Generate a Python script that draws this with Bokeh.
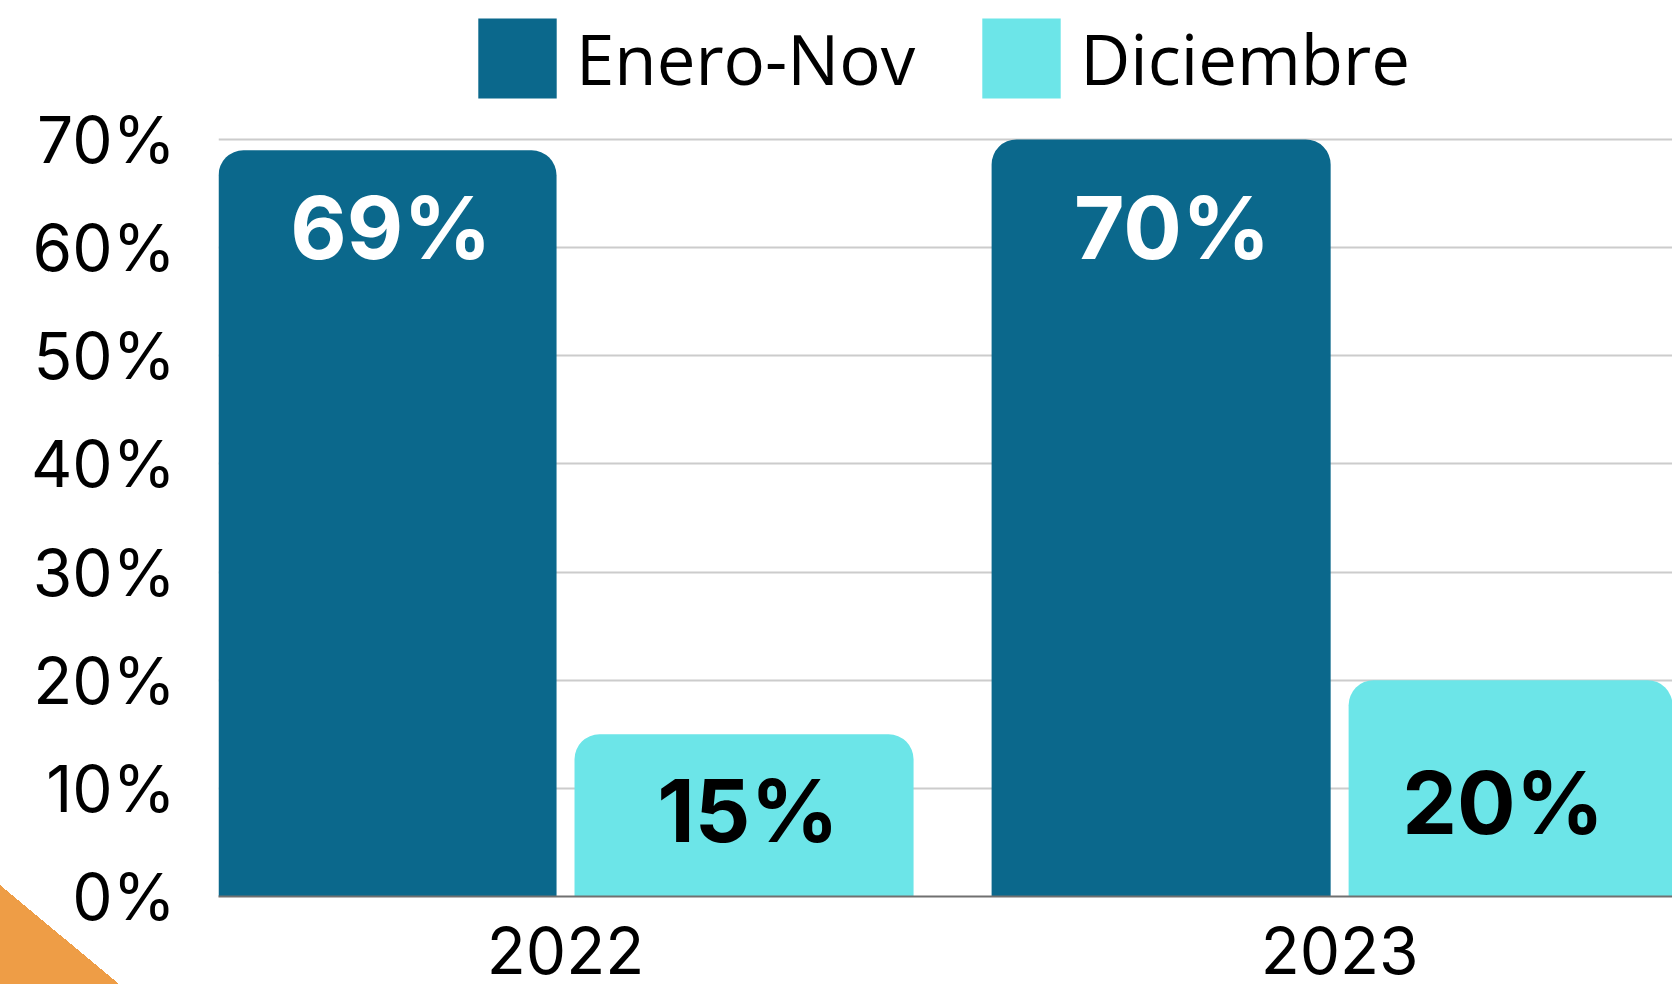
from bokeh.plotting import figure
from bokeh.models import ColumnDataSource, Range1d, FixedTicker, Legend, LegendItem
from bokeh.core.properties import value
from bokeh.transform import dodge
from bokeh.embed import file_html
from bokeh.resources import INLINE

# ---- data ----
years = ["2022", "2023"]
enero_nov = [69, 70]
diciembre = [15, 20]
y_ticks = [0, 10, 20, 30, 40, 50, 60, 70]
series_names = ["Enero-Nov", "Diciembre"]

# ---- style ----
DARK = "#0B688C"
LIGHT = "#6CE5E8"
ORANGE = "#EE9D46"
BAR_W = 0.438
DODGE = 0.2306

xpos = list(range(len(years)))
src_a = ColumnDataSource(dict(x=xpos, v=enero_nov, lbl=[f"{v}%" for v in enero_nov],
                              dx=[4, 11], dy=[77, 88]))
src_b = ColumnDataSource(dict(x=xpos, v=diciembre, lbl=[f"{v}%" for v in diciembre],
                              dx=[4, -15], dy=[76, 122]))

corner_bg = ("linear-gradient(to top right, %s 50%%, rgba(255,255,255,0) 50%%) "
             "left bottom / 119px 99px no-repeat, #ffffff" % ORANGE)

p = figure(width=1672, height=984, output_backend="svg", toolbar_location=None,
           x_range=Range1d(-0.4483, 1.430), y_range=Range1d(0, 82.85),
           min_border_left=218, min_border_right=0, min_border_top=0, min_border_bottom=88,
           styles={"background": corner_bg})
p.outline_line_color = None
p.background_fill_color = "white"
p.border_fill_alpha = 0

ra = p.vbar(x=dodge("x", -DODGE), top="v", width=BAR_W, source=src_a,
            fill_color=DARK, line_color=None, border_radius=(25, 25, 0, 0))
rb = p.vbar(x=dodge("x", DODGE), top="v", width=BAR_W, source=src_b,
            fill_color=LIGHT, line_color=None, border_radius=(25, 25, 0, 0))

p.text(x=dodge("x", -DODGE), y="v", text="lbl", source=src_a, x_offset="dx", y_offset="dy",
       text_font=value("Inter"), text_font_style="bold", text_font_size="87px",
       text_color="white", text_align="center", text_baseline="middle")
p.text(x=dodge("x", DODGE), y="v", text="lbl", source=src_b, x_offset="dx", y_offset="dy",
       text_font=value("Inter"), text_font_style="bold", text_font_size="87px",
       text_color="black", text_align="center", text_baseline="middle")

# axes
p.xaxis.ticker = FixedTicker(ticks=xpos)
p.xaxis.major_label_overrides = {i: y for i, y in enumerate(years)}
p.xaxis.major_label_text_font = "Inter"
p.xaxis.major_label_text_font_size = "64px"
p.xaxis.major_label_text_color = "black"
p.xaxis.major_label_standoff = 24
p.xaxis.axis_line_color = "#707070"
p.xaxis.axis_line_width = 2
p.xaxis.major_tick_line_color = None
p.xaxis.minor_tick_line_color = None

p.yaxis.ticker = FixedTicker(ticks=y_ticks)
p.yaxis.major_label_overrides = {t: f"{t}%" for t in y_ticks}
p.yaxis.major_label_text_font = "Inter"
p.yaxis.major_label_text_font_size = "64px"
p.yaxis.major_label_text_color = "black"
p.yaxis.major_label_standoff = 37
p.yaxis.axis_line_color = None
p.yaxis.major_tick_line_color = None
p.yaxis.minor_tick_line_color = None

p.xgrid.grid_line_color = None
p.ygrid.grid_line_color = "#CCCCCC"
p.ygrid.grid_line_width = 2

legend = Legend(items=[LegendItem(label=series_names[0], renderers=[ra]),
                       LegendItem(label=series_names[1], renderers=[rb])],
                orientation="horizontal", location=(250, 788),
                glyph_width=98, glyph_height=100, label_standoff=10, spacing=57,
                label_text_font="Open Sans", label_text_font_size="69px",
                label_text_color="black", border_line_color=None,
                background_fill_alpha=0, padding=0, margin=0)
p.add_layout(legend, "center")

open("out.html", "w").write(file_html(p, INLINE))
